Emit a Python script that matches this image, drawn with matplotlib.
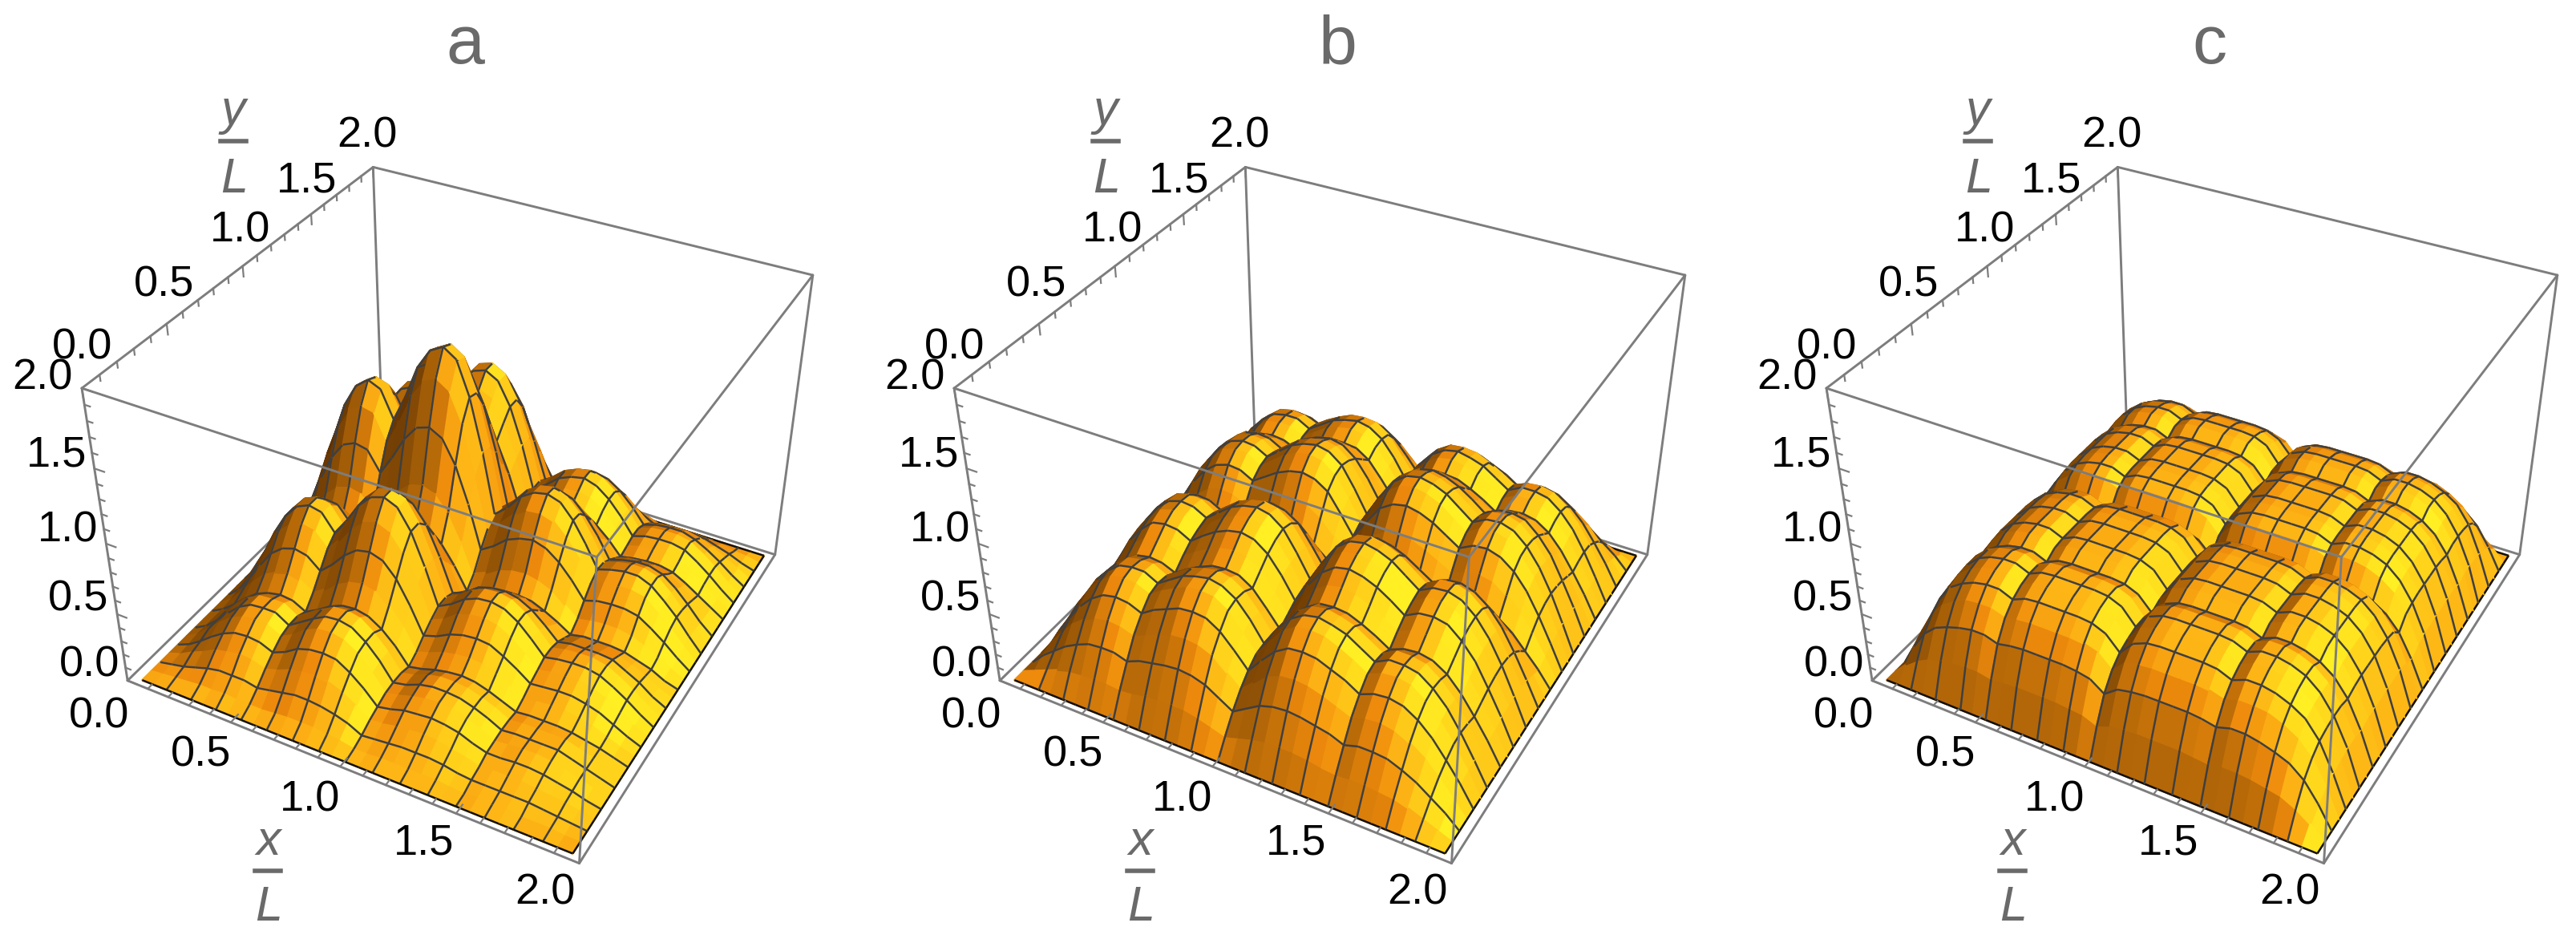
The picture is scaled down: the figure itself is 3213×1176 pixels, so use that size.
import numpy as np
import matplotlib
matplotlib.use('Agg')
import matplotlib.pyplot as plt
from matplotlib.lines import Line2D
from mpl_toolkits.mplot3d.art3d import Poly3DCollection

W, H = 3213, 1176

panel_titles = ['a', 'b', 'c']
tick_labels = ['0.0', '0.5', '1.0', '1.5', '2.0']
tick_values = [i / 10 for i in range(21)]

# heights x 100, rows run along y, columns along x
heights_a = [
    [0]*33,
    [0,1,2,3,4,4,5,4,4,4,5,6,6,6,5,4,2,2,3,3,3,3,3,2,1,2,2,2,1,1,1,0,0],
    [0,2,4,7,10,12,12,12,10,12,14,16,16,15,13,10,5,6,7,8,8,8,7,5,4,4,4,4,4,3,2,1,0],
    [0,3,8,12,17,19,21,20,17,20,24,26,27,26,22,16,9,10,12,13,14,13,11,9,6,7,7,7,6,5,4,2,0],
    [0,4,10,17,23,27,28,27,23,27,33,36,37,36,30,22,12,14,17,18,19,18,16,12,9,9,10,10,9,7,5,2,0],
    [0,5,13,21,28,32,34,33,28,33,40,44,45,43,37,27,15,17,20,22,23,22,19,15,10,11,12,12,11,9,6,3,0],
    [0,5,13,22,30,35,36,36,30,36,42,47,48,46,39,29,16,18,22,24,24,23,20,16,11,12,12,12,12,9,6,3,0],
    [0,5,13,22,30,35,36,36,30,36,42,47,48,46,39,29,16,18,22,24,24,23,20,16,11,12,12,12,12,9,6,3,0],
    [0,5,12,20,27,31,33,32,27,32,38,42,43,41,35,26,14,16,19,21,22,21,18,14,10,11,11,11,10,8,6,3,0],
    [0,6,16,26,35,40,43,41,35,41,49,54,56,54,46,34,18,21,25,27,28,27,24,18,13,14,15,15,13,11,7,3,0],
    [0,8,20,33,45,52,55,53,45,53,63,70,72,69,59,43,24,27,32,35,36,35,30,24,17,18,19,19,17,14,9,4,0],
    [0,10,25,40,55,63,67,65,55,65,77,85,88,84,72,53,29,33,40,43,44,42,37,29,20,22,23,23,21,17,11,5,0],
    [0,11,28,46,61,71,75,73,61,73,87,96,99,95,81,59,33,38,45,49,50,48,42,33,23,25,26,26,24,19,13,6,0],
    [0,11,28,46,61,71,75,73,61,73,87,96,99,95,81,59,33,38,45,49,50,48,42,33,23,25,26,26,24,19,13,6,0],
    [0,10,25,41,56,65,68,67,56,67,79,87,90,86,74,54,30,34,41,44,45,43,38,30,21,23,23,23,22,17,12,5,0],
    [0,8,21,34,46,53,56,55,46,55,65,72,74,71,61,44,24,28,33,36,37,36,31,24,17,19,19,19,18,14,10,4,0],
    [0,6,16,27,36,42,44,43,36,43,51,56,58,56,48,35,19,22,26,28,29,28,24,19,13,15,15,15,14,11,8,3,0],
    [0,9,22,37,50,58,61,59,50,59,70,78,80,77,66,48,26,30,36,39,40,38,34,26,18,20,21,21,19,15,10,5,0],
    [0,13,32,53,71,83,87,85,71,85,101,112,115,110,94,69,38,44,52,56,58,55,48,38,26,29,30,30,28,22,15,7,0],
    [0,16,40,66,89,104,109,107,89,107,127,140,144,138,118,86,48,55,65,71,72,69,60,48,33,36,37,37,35,27,19,9,0],
    [0,18,45,74,99,115,122,118,99,118,141,155,160,154,131,96,53,61,72,78,80,77,67,53,37,40,42,42,38,30,21,10,0],
    [0,17,44,72,97,113,119,116,97,116,138,152,157,151,129,94,52,60,71,77,79,75,66,52,36,39,41,41,38,30,20,9,0],
    [0,16,39,65,87,102,107,104,87,104,124,137,141,135,116,85,47,54,63,69,71,68,59,47,32,35,37,37,34,27,18,8,0],
    [0,13,33,54,73,85,90,87,73,87,104,114,118,113,97,71,39,45,53,58,59,57,50,39,27,30,31,31,28,22,15,7,0],
    [0,11,27,44,60,69,73,71,60,71,84,93,96,92,79,58,32,36,43,47,48,46,40,32,22,24,25,25,23,18,12,6,0],
    [0,12,30,49,66,76,81,78,66,78,93,103,106,102,87,64,35,40,48,52,53,51,45,35,24,27,28,28,25,20,14,6,0],
    [0,13,32,53,71,83,87,85,71,85,101,112,115,110,94,69,38,44,52,56,58,55,48,38,26,29,30,30,28,22,15,7,0],
    [0,13,32,53,71,83,87,85,71,85,101,112,115,110,94,69,38,44,52,56,58,55,48,38,26,29,30,30,28,22,15,7,0],
    [0,11,29,47,63,73,78,75,63,75,90,99,102,98,84,61,34,39,46,50,51,49,43,34,23,26,27,27,24,19,13,6,0],
    [0,9,22,37,50,58,61,59,50,59,70,78,80,77,66,48,26,30,36,39,40,38,34,26,18,20,21,21,19,15,10,5,0],
    [0,6,15,24,33,38,40,39,33,39,47,51,53,51,43,32,17,20,24,26,27,25,22,17,12,13,14,14,13,10,7,3,0],
    [0,3,7,12,16,19,20,19,16,19,23,25,26,25,21,16,9,10,12,13,13,12,11,9,6,7,7,7,6,5,3,2,0],
    [0]*33,
]

heights_b = [
    [0]*33,
    [0,4,8,12,15,16,17,17,16,17,19,20,20,20,18,15,12,15,18,20,20,20,19,17,16,17,17,16,15,12,8,4,0],
    [0,9,16,23,28,32,33,33,30,34,36,38,39,38,35,29,23,29,35,38,39,38,36,34,30,33,33,32,28,23,16,9,0],
    [0,12,23,33,40,45,47,46,43,47,51,54,55,54,50,41,32,41,50,54,55,54,51,47,43,46,47,45,40,33,23,12,0],
    [0,15,28,40,49,55,57,56,52,58,62,66,67,66,60,50,39,50,60,66,67,66,62,58,52,56,57,55,49,40,28,15,0],
    [0,17,32,45,55,62,64,63,59,65,70,74,75,74,68,56,44,56,68,74,75,74,70,65,59,63,64,62,55,45,32,17,0],
    [0,17,33,47,57,64,66,66,61,67,73,76,78,76,70,59,45,59,70,76,78,76,73,67,61,66,66,64,57,47,33,17,0],
    [0,17,32,46,56,63,65,65,60,66,72,75,77,75,69,58,45,58,69,75,77,75,72,66,60,65,65,63,56,46,32,17,0],
    [0,16,30,43,53,59,61,60,56,62,67,71,72,71,65,54,42,54,65,71,72,71,67,62,56,60,61,59,53,43,30,16,0],
    [0,17,33,47,58,65,67,66,62,68,73,77,79,77,71,59,46,59,71,77,79,77,73,68,62,66,67,65,58,47,33,17,0],
    [0,19,36,52,63,71,73,72,67,74,80,84,86,84,77,65,50,65,77,84,86,84,80,74,67,72,73,71,63,52,36,19,0],
    [0,20,38,54,66,74,77,76,70,77,84,88,90,88,81,68,52,68,81,88,90,88,84,77,70,76,77,74,66,54,38,20,0],
    [0,20,39,55,67,75,78,77,72,79,86,90,92,90,83,69,53,69,83,90,92,90,86,79,72,77,78,75,67,55,39,20,0],
    [0,20,38,54,66,74,77,76,70,77,84,88,90,88,81,68,52,68,81,88,90,88,84,77,70,76,77,74,66,54,38,20,0],
    [0,18,35,50,61,68,71,70,65,71,77,81,83,81,75,62,48,62,75,81,83,81,77,71,65,70,71,68,61,50,35,18,0],
    [0,15,29,41,50,57,59,58,54,59,64,68,69,68,62,52,40,52,62,68,69,68,64,59,54,58,59,57,50,41,29,15,0],
    [0,12,22,32,39,43,45,45,41,46,49,52,53,52,48,40,31,40,48,52,53,52,49,46,41,45,45,43,39,32,22,12,0],
    [0,15,29,41,50,57,59,58,54,59,64,68,69,68,62,52,40,52,62,68,69,68,64,59,54,58,59,57,50,41,29,15,0],
    [0,18,35,50,61,68,71,70,65,71,77,81,83,81,75,62,48,62,75,81,83,81,77,71,65,70,71,68,61,50,35,18,0],
    [0,20,38,54,66,74,77,76,70,77,84,88,90,88,81,68,52,68,81,88,90,88,84,77,70,76,77,74,66,54,38,20,0],
    [0,20,39,55,67,75,78,77,72,79,86,90,92,90,83,69,53,69,83,90,92,90,86,79,72,77,78,75,67,55,39,20,0],
    [0,20,38,54,66,74,77,76,70,77,84,88,90,88,81,68,52,68,81,88,90,88,84,77,70,76,77,74,66,54,38,20,0],
    [0,19,36,52,63,71,73,72,67,74,80,84,86,84,77,65,50,65,77,84,86,84,80,74,67,72,73,71,63,52,36,19,0],
    [0,17,33,47,58,65,67,66,62,68,73,77,79,77,71,59,46,59,71,77,79,77,73,68,62,66,67,65,58,47,33,17,0],
    [0,16,30,43,53,59,61,60,56,62,67,71,72,71,65,54,42,54,65,71,72,71,67,62,56,60,61,59,53,43,30,16,0],
    [0,17,32,46,56,63,65,65,60,66,72,75,77,75,69,58,45,58,69,75,77,75,72,66,60,65,65,63,56,46,32,17,0],
    [0,17,33,47,57,64,66,66,61,67,73,76,78,76,70,59,45,59,70,76,78,76,73,67,61,66,66,64,57,47,33,17,0],
    [0,17,32,45,55,62,64,63,59,65,70,74,75,74,68,56,44,56,68,74,75,74,70,65,59,63,64,62,55,45,32,17,0],
    [0,15,28,40,49,55,57,56,52,58,62,66,67,66,60,50,39,50,60,66,67,66,62,58,52,56,57,55,49,40,28,15,0],
    [0,12,23,33,40,45,47,46,43,47,51,54,55,54,50,41,32,41,50,54,55,54,51,47,43,46,47,45,40,33,23,12,0],
    [0,9,16,23,28,32,33,33,30,34,36,38,39,38,35,29,23,29,35,38,39,38,36,34,30,33,33,32,28,23,16,9,0],
    [0,4,8,12,15,16,17,17,16,17,19,20,20,20,18,15,12,15,18,20,20,20,19,17,16,17,17,16,15,12,8,4,0],
    [0]*33,
]

c00 = [0]*33
c26 = [0,9,16,21,23,25,26,26,24,25,26,26,26,26,25,24,20,24,25,26,26,26,26,25,24,26,26,25,23,21,16,9,0]
c46 = [0,16,29,37,41,44,46,46,43,45,46,46,46,46,45,43,36,43,45,46,46,46,46,45,43,46,46,44,41,37,29,16,0]
c59 = [0,21,37,47,53,57,58,58,55,58,59,59,59,59,58,55,46,55,58,59,59,59,59,58,55,58,58,57,53,47,37,21,0]
c67 = [0,23,42,54,60,64,66,66,62,66,67,67,67,67,66,62,52,62,66,67,67,67,67,66,62,66,66,64,60,54,42,23,0]
c71 = [0,25,44,57,64,68,70,70,66,70,71,71,71,71,70,66,55,66,70,71,71,71,71,70,66,70,70,68,64,57,44,25,0]
c73 = [0,26,45,58,66,70,72,72,68,72,73,73,73,73,72,68,57,68,72,73,73,73,73,72,68,72,72,70,66,58,45,26,0]
c69 = [0,24,43,55,62,66,68,68,64,68,69,69,69,69,68,64,54,64,68,69,69,69,69,68,64,68,68,66,62,55,43,24,0]
c74 = [0,26,46,59,67,71,73,73,69,73,74,74,74,74,73,69,58,69,73,74,74,74,74,73,69,73,73,71,67,59,46,26,0]
c58 = [0,20,36,46,52,56,57,57,54,57,58,58,58,58,57,54,45,54,57,58,58,58,58,57,54,57,57,56,52,46,36,20,0]
heights_c = [c00, c26, c46, c59, c67, c71, c73, c73, c69, c73, c74, c74, c74, c74, c73, c69, c58,
             c69, c73, c74, c74, c74, c74, c73, c69, c73, c73, c71, c67, c59, c46, c26, c00]

panel_heights = [heights_a, heights_b, heights_c]

# camera fitted to the box corners (mathematica's default viewpoint)
ELEV, AZIM, FOCAL, Z_ASPECT = 36.16, -61.59, 0.4125, 0.698
AX_LEFT, AX_BOTTOM, AX_SIZE = 85.4, 81.2, 965.3
PANEL_STEP = 1088

GREY = '#7d7d7d'
TEXT_GREY = '#6a6a6a'
MESH = '#3f3f3f'

# shading score -> colour stops
score_stops = [-0.5, 0.0, 0.3, 0.5, 0.64, 0.77, 0.92, 1.0]
colour_stops = ['#4a2602', '#6e3b03', '#8f5106', '#b86a08', '#ee8a0c', '#fcaf14', '#ffd41b', '#fff023']
light = np.array([0.60, -0.25, 0.76])


def facet_colours(x, y, z):
    rgb = np.array([matplotlib.colors.to_rgb(c) for c in colour_stops])
    cols = []
    for j in range(len(y) - 1):
        for i in range(len(x) - 1):
            a = np.array([x[i + 1] - x[i], y[j + 1] - y[j], (z[j + 1, i + 1] - z[j, i]) * Z_ASPECT])
            b = np.array([x[i] - x[i + 1], y[j + 1] - y[j], (z[j + 1, i] - z[j, i + 1]) * Z_ASPECT])
            n = np.cross(a, b)
            n = n / np.linalg.norm(n)
            if n[2] < 0:
                n = -n
            s = float(n @ light)
            cols.append([np.interp(s, score_stops, rgb[:, k]) for k in range(3)] + [1.0])
    return cols


def eye_position():
    aspect = np.array([1, 1, Z_ASPECT])
    world = aspect * 1.8294640721620434 * 25 / 24 / np.linalg.norm(aspect)
    e, a = np.deg2rad(ELEV), np.deg2rad(AZIM)
    ps = np.array([np.cos(e) * np.cos(a), np.cos(e) * np.sin(a), np.sin(e)])
    return (0.5 * world + 10 * FOCAL * ps) / world * 2


def draw_surface(ax, z):
    nx, ny = z.shape[1], z.shape[0]
    x = np.linspace(0.05, 1.96, nx)
    y = np.linspace(0.03, 1.97, ny)
    eye = eye_position()
    polys, faces, edges = [], [], []
    cols = facet_colours(x, y, z)
    k = 0
    for j in range(ny - 1):
        for i in range(nx - 1):
            polys.append([(x[i], y[j], z[j, i]), (x[i + 1], y[j], z[j, i + 1]),
                          (x[i + 1], y[j + 1], z[j + 1, i + 1]), (x[i], y[j + 1], z[j + 1, i])])
            faces.append(cols[k])
            edges.append(cols[k])
            k += 1

    def toward_eye(p, eps=0.08):
        p = np.array(p)
        d = eye - p
        return tuple(p + eps * d / np.linalg.norm(d))

    def add_segment(p, q, colour):
        p, q = toward_eye(p), toward_eye(q)
        polys.append([p, q, q, p])
        faces.append((0, 0, 0, 0))
        edges.append(matplotlib.colors.to_rgba(colour))

    # mesh on every second grid line, black on the outer rim
    for j in range(0, ny, 2):
        for i in range(nx - 1):
            colour = '#111111' if j == 0 or j == ny - 1 else MESH
            add_segment((x[i], y[j], z[j, i]), (x[i + 1], y[j], z[j, i + 1]), colour)
    for i in range(2, nx, 2):
        for j in range(ny - 1):
            colour = '#111111' if i == nx - 1 else MESH
            add_segment((x[i], y[j], z[j, i]), (x[i], y[j + 1], z[j + 1, i]), colour)

    surf = Poly3DCollection(polys, facecolors=faces, edgecolors=edges, linewidths=1.8)
    surf.set_zorder(2)
    ax.add_collection3d(surf)


def draw_box(ax):
    back = [((0, 2, 0), (0, 2, 2)), ((0, 0, 0), (0, 2, 0)), ((0, 2, 0), (2, 2, 0)), ((2, 2, 0), (2, 2, 2))]
    front = [((0, 0, 0), (0, 0, 2)), ((0, 0, 0), (2, 0, 0)), ((2, 0, 0), (2, 0, 2)), ((2, 0, 0), (2, 2, 0)),
             ((0, 0, 2), (2, 0, 2)), ((0, 0, 2), (0, 2, 2)), ((2, 0, 2), (2, 2, 2)), ((0, 2, 2), (2, 2, 2))]
    for edges, zo in ((back, 1), (front, 3)):
        for p, q in edges:
            ax.plot(*zip(p, q), color=GREY, lw=2.1, zorder=zo, solid_capstyle='round')
    for n, t in enumerate(tick_values):
        major = n % 5 == 0
        ln = 0.045 if major else 0.025
        ax.plot([t, t], [0, ln * 1.1], [0, 0], color=GREY, lw=1.6, zorder=3)
        ax.plot([0, 0], [t, t], [2, 2 - ln * 1.5], color=GREY, lw=1.6, zorder=3)
        ax.plot([0, ln], [0, 0], [t, t], color=GREY, lw=1.6, zorder=3)


fig = plt.figure(figsize=(W / 100, H / 100), dpi=100, facecolor='white')
plt.rcParams['font.family'] = ['Liberation Sans', 'DejaVu Sans']

xt = [(124, 893), (251, 941), (387, 998), (529, 1052), (680, 1114)]
zt = [(112, 830), (98, 748), (85, 662), (71, 568), (53, 471)]
yt = [(103, 434), (205, 355), (300, 287), (383, 225), (458, 169)]


def label(px, py, s, **kw):
    fig.text(px / W, 1 - py / H, s, ha='center', va='center', **kw)


for p in range(3):
    dx = PANEL_STEP * p
    ax = fig.add_axes([(AX_LEFT + dx) / W, AX_BOTTOM / H, AX_SIZE / W, AX_SIZE / H], projection='3d')
    ax.computed_zorder = False
    ax.set_xlim(0, 2); ax.set_ylim(0, 2); ax.set_zlim(0, 2)
    ax.view_init(elev=ELEV, azim=AZIM)
    ax.set_proj_type('persp', focal_length=FOCAL)
    ax.set_box_aspect((1, 1, Z_ASPECT))
    ax.set_axis_off()
    draw_box(ax)
    draw_surface(ax, np.array(panel_heights[p], float) / 100)

    for group in (xt, zt, yt):
        for (px, py), s in zip(group, tick_labels):
            label(px + dx, py, s, fontsize=39, color='black')
    label(580 + dx, 57, panel_titles[p], fontsize=62, color=TEXT_GREY)
    label(291 + dx, 139, 'y', fontsize=44, style='italic', color=TEXT_GREY)
    label(292 + dx, 224, 'L', fontsize=44, style='italic', color=TEXT_GREY)
    fig.add_artist(Line2D([(275 + dx) / W, (307 + dx) / W], [1 - 176 / H] * 2, color=TEXT_GREY, lw=4))
    label(335 + dx, 1050, 'x', fontsize=44, style='italic', color=TEXT_GREY)
    label(335 + dx, 1133, 'L', fontsize=44, style='italic', color=TEXT_GREY)
    fig.add_artist(Line2D([(318 + dx) / W, (350 + dx) / W], [1 - 1086 / H] * 2, color=TEXT_GREY, lw=4))

fig.savefig('out.png', dpi=100)
